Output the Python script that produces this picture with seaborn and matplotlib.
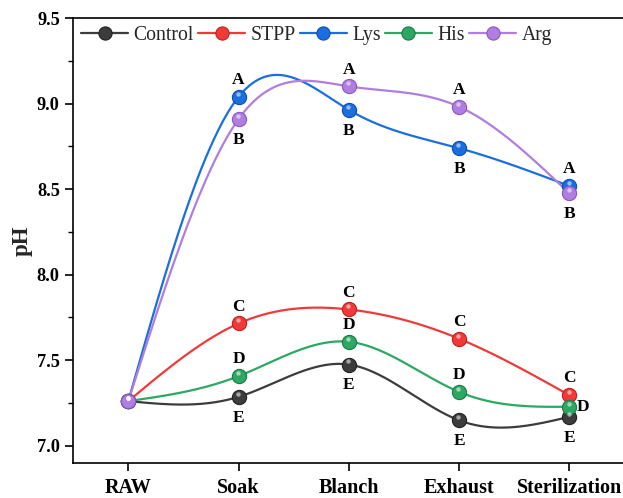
import numpy as np
import pandas as pd
import matplotlib
matplotlib.use("Agg")
import matplotlib.pyplot as plt
from matplotlib.lines import Line2D
from matplotlib.transforms import ScaledTranslation
import seaborn as sns

stages = ["RAW", "Soak", "Blanch", "Exhaust", "Sterilization"]
control = [7.26, 7.285, 7.474, 7.148, 7.168]
stpp = [7.26, 7.714, 7.796, 7.625, 7.295]
lys = [7.26, 9.039, 8.963, 8.739, 8.518]
his = [7.26, 7.406, 7.607, 7.314, 7.227]
arg = [7.26, 8.909, 9.100, 8.981, 8.475]

control_lbl = ["", "E", "E", "E", "E"]
stpp_lbl = ["", "C", "C", "C", "C"]
lys_lbl = ["", "A", "B", "B", "A"]
his_lbl = ["", "D", "D", "D", "D"]
arg_lbl = ["", "B", "A", "A", "B"]

series_names = ["Control", "STPP", "Lys", "His", "Arg"]
series_vals = [control, stpp, lys, his, arg]
series_lbls = [control_lbl, stpp_lbl, lys_lbl, his_lbl, arg_lbl]
colors = ["#3c3c3c", "#f03a3a", "#1a6ee0", "#2ca862", "#b07ee0"]
edge_colors = ["#222222", "#c02020", "#0f4fb0", "#1c7a44", "#8a58c0"]

# label placement: 'a' above, 'b' below, 'r' right
lys_pos = ["", "a", "b", "b", "a"]
arg_pos = ["", "b", "a", "a", "b"]
stpp_pos = ["", "a", "a", "a", "a"]
his_pos = ["", "a", "a", "a", "r"]
control_pos = ["", "b", "b", "b", "b"]
series_pos = [control_pos, stpp_pos, lys_pos, his_pos, arg_pos]


def natural_spline(x, y, num=300):
    x = np.asarray(x, float)
    y = np.asarray(y, float)
    n = len(x)
    h = np.diff(x)
    A = np.zeros((n, n))
    b = np.zeros(n)
    A[0, 0] = 1
    A[-1, -1] = 1
    for i in range(1, n - 1):
        A[i, i - 1] = h[i - 1]
        A[i, i] = 2 * (h[i - 1] + h[i])
        A[i, i + 1] = h[i]
        b[i] = 6 * ((y[i + 1] - y[i]) / h[i] - (y[i] - y[i - 1]) / h[i - 1])
    M = np.linalg.solve(A, b)
    xs = np.linspace(x[0], x[-1], num)
    ys = np.empty_like(xs)
    for k, xv in enumerate(xs):
        i = min(np.searchsorted(x, xv, side="right") - 1, n - 2)
        t1 = x[i + 1] - xv
        t0 = xv - x[i]
        ys[k] = (M[i] * t1 ** 3 / (6 * h[i]) + M[i + 1] * t0 ** 3 / (6 * h[i])
                 + (y[i] / h[i] - M[i] * h[i] / 6) * t1
                 + (y[i + 1] / h[i] - M[i + 1] * h[i] / 6) * t0)
    return xs, ys


sns.set_theme(style="ticks")
plt.rcParams["font.family"] = ["Liberation Serif", "DejaVu Serif"]

fig = plt.figure(figsize=(6.23, 4.98), dpi=100)
ax = fig.add_axes([73 / 623, 1 - 462.7 / 498, 1 - 73 / 623, (462.7 - 18) / 498])

xpos = np.arange(len(stages))
curve_rows = []
for name, vals in zip(series_names, series_vals):
    xs, ys = natural_spline(xpos, vals)
    curve_rows.append(pd.DataFrame({"x": xs, "y": ys, "series": name}))
curves = pd.concat(curve_rows, ignore_index=True)

for name, col, ecol, vals in zip(series_names, colors, edge_colors, series_vals):
    sub = curves[curves["series"] == name]
    sns.lineplot(data=sub, x="x", y="y", color=col, lw=1.6, ax=ax,
                 sort=False, estimator=None, legend=False, zorder=2)
    pts = pd.DataFrame({"x": xpos, "y": vals})
    sns.scatterplot(data=pts, x="x", y="y", color=col, edgecolor=ecol,
                    linewidth=0.8, s=105, ax=ax, legend=False, zorder=3)
    hl = ScaledTranslation(-0.5 / 72, 2.3 / 72, fig.dpi_scale_trans)
    ax.scatter(xpos, vals, s=10, color="white", alpha=0.55, linewidths=0,
               transform=ax.transData + hl, zorder=3.1)

for vals, lbls, poss in zip(series_vals, series_lbls, series_pos):
    for xi, v, l, p in zip(xpos, vals, lbls, poss):
        if not l:
            continue
        if p == "a":
            off = (0, 12)
        elif p == "b":
            off = (0, -15)
        else:
            off = (10, 0)
        ax.annotate(l, (xi, v), xytext=off, textcoords="offset points",
                    ha="center", va="center", fontsize=12.5,
                    fontweight="bold", color="black", zorder=5)

ax.set_xlim(-(128.3 - 73) / 110.25, (623 - 128.3) / 110.25)
ax.set_ylim(6.9, 9.5)
ax.set_xticks(xpos)
ax.set_xticklabels(stages)
ax.set_yticks([7.0, 7.5, 8.0, 8.5, 9.0, 9.5])
ax.set_yticklabels(["7.0", "7.5", "8.0", "8.5", "9.0", "9.5"])
ax.set_yticks(np.arange(7.25, 9.5, 0.5), minor=True)
ax.set_xlabel("")
ax.set_ylabel("pH", fontsize=16.5, fontweight="bold", labelpad=3)

for lab in ax.get_xticklabels() + ax.get_yticklabels():
    lab.set_fontweight("bold")
ax.tick_params(axis="x", which="major", direction="out", length=6, width=1.2,
               labelsize=14.5, pad=5, color="black", labelcolor="black")
ax.tick_params(axis="y", which="major", direction="out", length=6, width=1.2,
               labelsize=13.2, pad=3.5, color="black", labelcolor="black")
ax.tick_params(axis="y", which="minor", direction="out", length=3.5, width=1.0,
               color="black")
for sp in ["left", "bottom", "top"]:
    ax.spines[sp].set_linewidth(1.2)
    ax.spines[sp].set_color("black")
ax.spines["right"].set_visible(False)

handles = [Line2D([0], [0], color=c, lw=1.6, marker="o", markersize=9.5,
                  markerfacecolor=c, markeredgecolor=e, markeredgewidth=0.8)
           for c, e in zip(colors, edge_colors)]
ax.legend(handles, series_names, loc="upper left", bbox_to_anchor=(0.0, 1.0),
          ncol=5, frameon=False, fontsize=14.2, handlelength=2.4,
          handletextpad=0.27, columnspacing=0.2, borderaxespad=0.2,
          borderpad=0.2)

fig.savefig("out.png", dpi=100)
